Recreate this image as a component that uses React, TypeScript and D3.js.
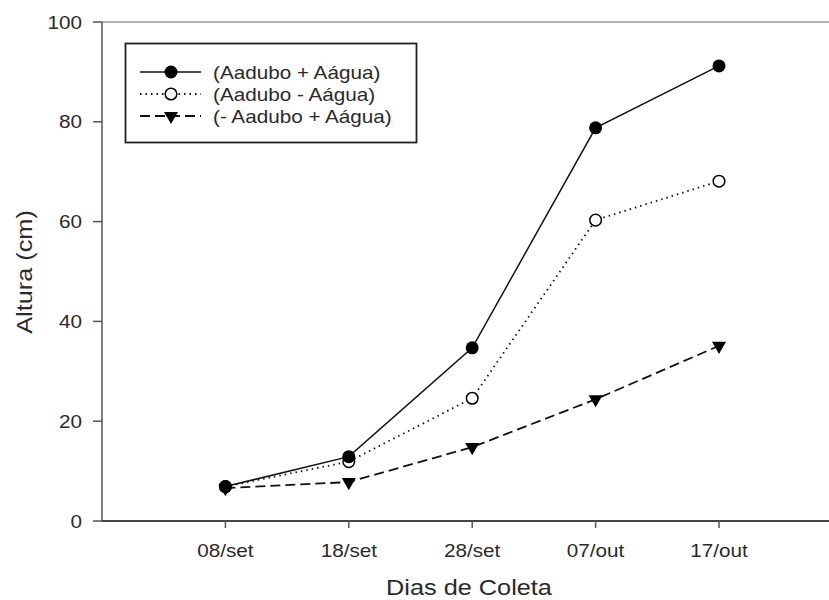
import React, { useEffect, useRef } from 'react'
import * as d3 from 'd3'

// dados
const dias = ['08/set', '18/set', '28/set', '07/out', '17/out']
const comAduboComAgua = [6.9, 12.9, 34.7, 78.8, 91.2]
const comAduboSemAgua = [6.9, 11.9, 24.6, 60.3, 68.1]
const semAduboComAgua = [6.6, 7.8, 14.8, 24.4, 35.1]
const yTicks = [0, 20, 40, 60, 80, 100]
const legendLabels = ['(Aadubo + Aágua)', '(Aadubo - Aágua)', '(- Aadubo + Aágua)']

const width = 829
const height = 600
const left = 102
const right = 842.4
const top = 22
const bottom = 521
const font = '"Liberation Sans", Arial, sans-serif'
const stretch = 1.15

export default function App() {
  const ref = useRef<SVGSVGElement>(null)

  useEffect(() => {
    const svg = d3.select(ref.current)
    svg.selectAll('*').remove()

    const x = d3.scalePoint<string>().domain(dias).range([left, right]).padding(1)
    const y = d3.scaleLinear().domain([0, 100]).range([bottom, top])

    const label = (g: any, tx: number, ty: number, s: string, size: number, anchor: string, rot = 0) =>
      g.append('text')
        .attr('transform', `translate(${tx},${ty}) rotate(${rot}) scale(${stretch},1)`)
        .attr('text-anchor', anchor)
        .attr('font-family', font)
        .attr('font-size', size)
        .attr('fill', '#2a2a2a')
        .text(s)

    // moldura / eixos
    svg.append('line').attr('x1', left).attr('x2', width).attr('y1', top).attr('y2', top)
      .attr('stroke', '#999').attr('stroke-width', 1.5)
    svg.append('line').attr('x1', left).attr('x2', left).attr('y1', top).attr('y2', bottom)
      .attr('stroke', '#555').attr('stroke-width', 1.5)
    svg.append('line').attr('x1', left).attr('x2', width).attr('y1', bottom).attr('y2', bottom)
      .attr('stroke', '#444').attr('stroke-width', 1.8)

    yTicks.forEach(t => {
      svg.append('line').attr('x1', left - 9).attr('x2', left).attr('y1', y(t)).attr('y2', y(t))
        .attr('stroke', '#555').attr('stroke-width', 1.5)
      label(svg, 82, y(t) + 6.5, String(t), 18, 'end')
    })

    dias.forEach(d => {
      svg.append('line').attr('x1', x(d)!).attr('x2', x(d)!).attr('y1', bottom).attr('y2', bottom + 7)
        .attr('stroke', '#555').attr('stroke-width', 1.5)
      label(svg, x(d)!, 557, d, 18, 'middle')
    })

    label(svg, 469, 595, 'Dias de Coleta', 22, 'middle')
    label(svg, 32, 272, 'Altura (cm)', 22, 'middle', -90)

    const series = [
      { values: comAduboComAgua, dash: null, width: 1.5, marker: 'filled' },
      { values: comAduboSemAgua, dash: '1.5,4', width: 1.8, marker: 'open' },
      { values: semAduboComAgua, dash: '10,5', width: 1.8, marker: 'tri' },
    ]

    const line = d3.line<number>().x((_, i) => x(dias[i])!).y(v => y(v))
    const tri = d3.symbol().type(d3.symbolTriangle).size(85)

    const drawMarker = (g: any, cx: number, cy: number, kind: string) => {
      if (kind === 'filled') {
        g.append('circle').attr('cx', cx).attr('cy', cy).attr('r', 6.5).attr('fill', '#000')
      } else if (kind === 'open') {
        g.append('circle').attr('cx', cx).attr('cy', cy).attr('r', 5.8)
          .attr('fill', '#fff').attr('stroke', '#000').attr('stroke-width', 1.5)
      } else {
        g.append('path').attr('d', tri()).attr('fill', '#000')
          .attr('transform', `translate(${cx},${cy}) rotate(180)`)
      }
    }

    // ordem de desenho: triangulos por baixo
    series.slice().reverse().forEach(s => {
      svg.append('path').datum(s.values).attr('d', line)
        .attr('fill', 'none').attr('stroke', '#111').attr('stroke-width', s.width)
        .attr('stroke-dasharray', s.dash)
      s.values.forEach((v, i) => drawMarker(svg, x(dias[i])!, y(v), s.marker))
    })

    // legenda
    svg.append('rect').attr('x', 125.5).attr('y', 43.5).attr('width', 291).attr('height', 99)
      .attr('fill', '#fff').attr('stroke', '#222').attr('stroke-width', 1.8)
    series.forEach((s, i) => {
      const ly = 72 + i * 22
      svg.append('line').attr('x1', 140).attr('x2', 201).attr('y1', ly).attr('y2', ly)
        .attr('stroke', '#111').attr('stroke-width', s.width).attr('stroke-dasharray', s.dash)
      drawMarker(svg, 171, ly, s.marker)
      label(svg, 213, ly + 6.5, legendLabels[i], 18, 'start')
    })
  }, [])

  return (
    <svg ref={ref} width={width} height={height}
      style={{ position: 'absolute', left: 0, top: 0, background: '#fff' }} />
  )
}
